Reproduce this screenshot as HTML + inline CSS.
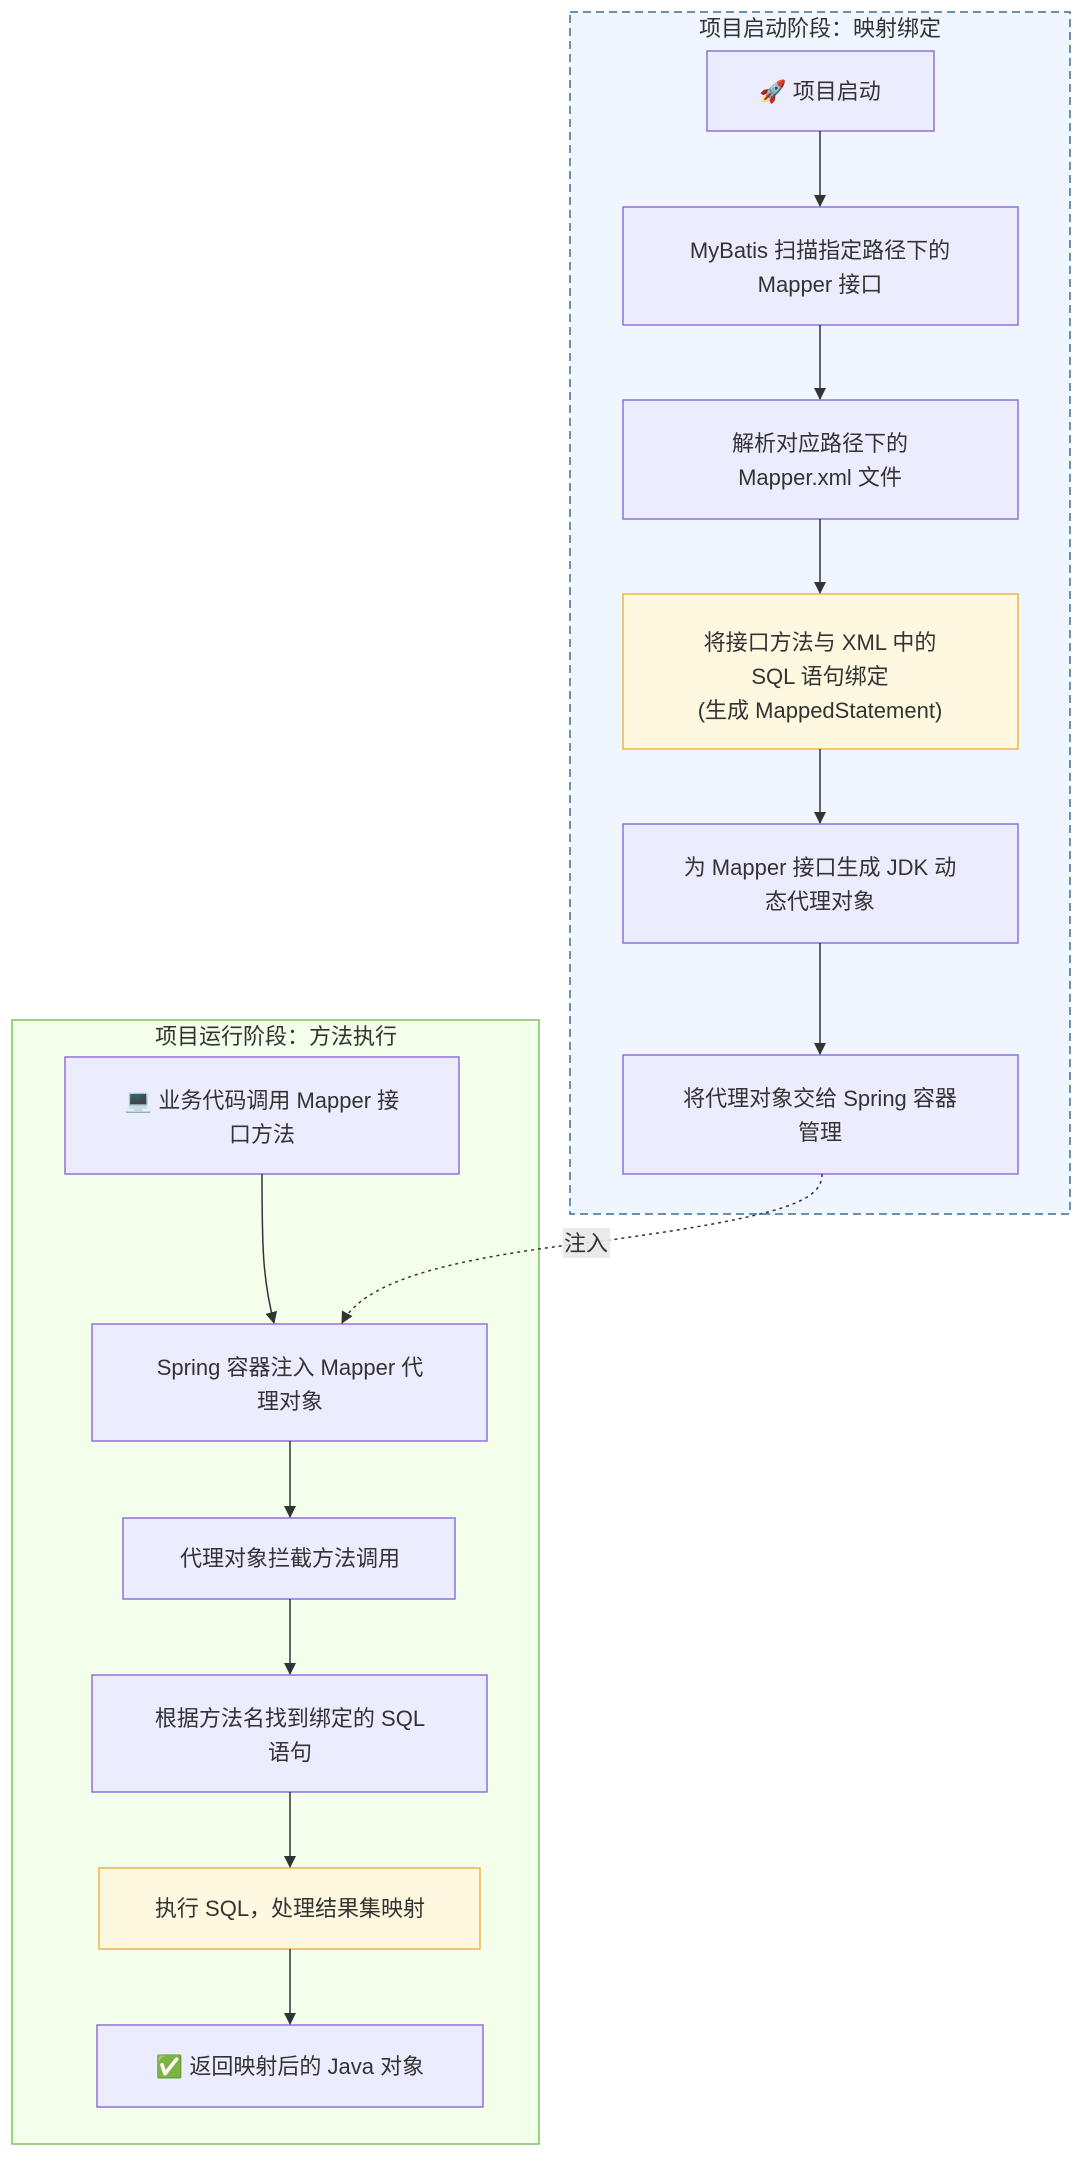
<!DOCTYPE html>
<html><head><meta charset="utf-8"><style>
html,body{margin:0;padding:0;background:#fff;}
svg text{font-family:"Liberation Sans","Noto Sans CJK SC",sans-serif;fill:#333;font-size:22px;text-anchor:middle;}
</style></head><body>
<svg width="1080" height="2157" viewBox="0 0 1080 2157" xmlns="http://www.w3.org/2000/svg">
<defs>
<marker id="ah" viewBox="0 0 12 12" refX="11" refY="6" markerWidth="12" markerHeight="12" orient="auto" markerUnits="userSpaceOnUse"><path d="M0,0 L12,6 L0,12 z" fill="#333"/></marker>
</defs>
<rect x="570" y="12" width="500" height="1202" fill="#EFF6FF" stroke="#3A6E9A" stroke-width="1.5" stroke-dasharray="8 5"/>
<text x="820" y="36">项目启动阶段：映射绑定</text>
<rect x="12" y="1020" width="527" height="1124" fill="#F3FFEB" stroke="#7CC35B" stroke-width="1.5"/>
<text x="276" y="1044">项目运行阶段：方法执行</text>
<g stroke="#9370DB" stroke-width="1.5" fill="#ECECFF">
<rect x="707" y="51" width="227" height="80"/>
<rect x="623" y="207" width="395" height="118"/>
<rect x="623" y="400" width="395" height="119"/>
<rect x="623" y="824" width="395" height="119"/>
<rect x="623" y="1055" width="395" height="119"/>
<rect x="65" y="1057" width="394" height="117"/>
<rect x="92" y="1324" width="395" height="117"/>
<rect x="123" y="1518" width="332" height="81"/>
<rect x="92" y="1675" width="395" height="117"/>
<rect x="97" y="2025" width="386" height="82"/>
</g>
<g stroke="#F0B34A" stroke-width="1.5" fill="#FFF8E1">
<rect x="623" y="594" width="395" height="155"/>
<rect x="99" y="1868" width="381" height="81"/>
</g>
<g stroke="#333" stroke-width="1.5" fill="none">
<line x1="820" y1="131" x2="820" y2="206" marker-end="url(#ah)"/>
<line x1="820" y1="325" x2="820" y2="399" marker-end="url(#ah)"/>
<line x1="820" y1="519" x2="820" y2="593" marker-end="url(#ah)"/>
<line x1="820" y1="749" x2="820" y2="823" marker-end="url(#ah)"/>
<line x1="820" y1="943" x2="820" y2="1054" marker-end="url(#ah)"/>
<path d="M262,1174 C262,1250 263,1280 274,1323" marker-end="url(#ah)"/>
<path d="M822,1174 C822,1200 790,1215 610,1240 C450,1258 365,1280 342,1323" stroke-dasharray="3 4" marker-end="url(#ah)"/>
<line x1="290" y1="1441" x2="290" y2="1517" marker-end="url(#ah)"/>
<line x1="290" y1="1599" x2="290" y2="1674" marker-end="url(#ah)"/>
<line x1="290" y1="1792" x2="290" y2="1867" marker-end="url(#ah)"/>
<line x1="290" y1="1949" x2="290" y2="2024" marker-end="url(#ah)"/>
</g>
<rect x="563" y="1228" width="47" height="30" fill="#E8E8E8" opacity="0.9"/>
<text x="586" y="1251">注入</text>
<text x="820" y="99">🚀 项目启动</text>
<text x="820" y="258">MyBatis 扫描指定路径下的</text>
<text x="820" y="292">Mapper 接口</text>
<text x="820" y="451">解析对应路径下的</text>
<text x="820" y="485">Mapper.xml 文件</text>
<text x="820" y="650">将接口方法与 XML 中的</text>
<text x="820" y="684">SQL 语句绑定</text>
<text x="820" y="718">(生成 MappedStatement)</text>
<text x="820" y="875">为 Mapper 接口生成 JDK 动</text>
<text x="820" y="909">态代理对象</text>
<text x="820" y="1106">将代理对象交给 Spring 容器</text>
<text x="820" y="1140">管理</text>
<text x="262" y="1108">💻 业务代码调用 Mapper 接</text>
<text x="262" y="1142">口方法</text>
<text x="290" y="1375">Spring 容器注入 Mapper 代</text>
<text x="290" y="1409">理对象</text>
<text x="290" y="1566">代理对象拦截方法调用</text>
<text x="290" y="1726">根据方法名找到绑定的 SQL</text>
<text x="290" y="1760">语句</text>
<text x="290" y="1916">执行 SQL，处理结果集映射</text>
<text x="290" y="2074">✅ 返回映射后的 Java 对象</text>
</svg>
</body></html>
